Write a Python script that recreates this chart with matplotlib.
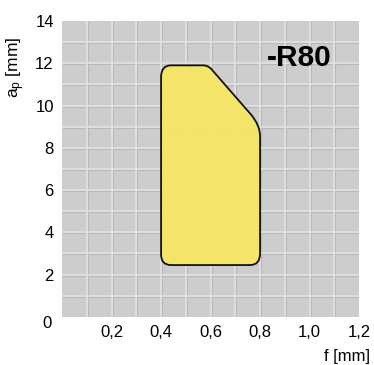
import matplotlib
matplotlib.use("Agg")
import matplotlib.pyplot as plt
from matplotlib.path import Path
from matplotlib.patches import PathPatch
import matplotlib.transforms as mtransforms
import numpy as np

plt.rcParams['font.family'] = ['Liberation Sans', 'DejaVu Sans']
plt.rcParams['mathtext.fontset'] = 'custom'
plt.rcParams['mathtext.rm'] = 'Liberation Sans'
plt.rcParams['mathtext.it'] = 'Liberation Sans'

# Data
x_ticks = [0.2, 0.4, 0.6, 0.8, 1.0, 1.2]
x_tick_labels = ["0,2", "0,4", "0,6", "0,8", "1,0", "1,2"]
y_ticks = [2, 4, 6, 8, 10, 12, 14]
y_tick_labels = ["2", "4", "6", "8", "10", "12", "14"]

# Chipbreaker application area outline (f [mm], ap [mm]), with rounded corners
area_f = [0.40, 0.40, 0.40, 0.44, 0.57, 0.59, 0.605, 0.765, 0.80, 0.80, 0.80, 0.80, 0.76, 0.44, 0.40, 0.40]
area_ap = [2.95, 11.35, 11.9, 11.9, 11.9, 11.9, 11.7, 9.55, 9.05, 8.55, 3.0, 2.45, 2.45, 2.45, 2.45, 2.95]
area_codes = [Path.MOVETO, Path.LINETO, Path.CURVE3, Path.CURVE3, Path.LINETO, Path.CURVE3, Path.CURVE3,
              Path.LINETO, Path.CURVE3, Path.CURVE3, Path.LINETO, Path.CURVE3, Path.CURVE3,
              Path.LINETO, Path.CURVE3, Path.CURVE3]
label = "-R80"

fig = plt.figure(figsize=(3.74, 3.65), dpi=100)
ax = fig.add_axes([0.166, 0.132, 0.794, 0.8105])
ax.set_xlim(0, 1.2)
ax.set_ylim(0, 14)
ax.set_facecolor('#cdcdcd')
for s in ax.spines.values():
    s.set_visible(False)

# grid with slight emboss effect
shadow = mtransforms.offset_copy(ax.transData, fig=fig, x=1.0, y=-1.0, units='dots')
for xv in np.arange(0.1, 1.2, 0.1):
    ax.plot([xv, xv], [0, 14], color='#b9b9b9', lw=0.8, transform=shadow, zorder=1)
    ax.plot([xv, xv], [0, 14], color='#e2e2e2', lw=1.2, zorder=1.1)
for yv in np.arange(1, 14, 1):
    ax.plot([0, 1.2], [yv, yv], color='#b9b9b9', lw=0.8, transform=shadow, zorder=1)
    ax.plot([0, 1.2], [yv, yv], color='#e2e2e2', lw=1.2, zorder=1.1)
ax.set_xlim(0, 1.2)
ax.set_ylim(0, 14)

path = Path(list(zip(area_f, area_ap)), area_codes)
ax.add_patch(PathPatch(path, facecolor='#f9e85f', alpha=0.9, edgecolor='none', zorder=2))
ax.add_patch(PathPatch(path, facecolor='none', edgecolor='#111111', lw=1.3, zorder=3))

ax.text(1.09, 12.25, label, fontsize=21.5, fontweight='bold', ha='right', va='center', zorder=4)

ax.set_xticks(x_ticks)
ax.set_xticklabels(x_tick_labels, fontsize=12)
ax.set_yticks(y_ticks)
ax.set_yticklabels(y_tick_labels, fontsize=12)
ax.tick_params(length=0, pad=6)
ax.tick_params(axis='x', pad=6)
ax.annotate("0", xy=(0, 0), xytext=(-10, -7), textcoords='offset pixels',
            ha='right', va='center', fontsize=12)

fig.text(0.042, 0.815, r"a$_\mathrm{p}$ [mm]", rotation=90, ha='center', va='center', fontsize=12.5)
fig.text(0.99, 0.024, "f [mm]", ha='right', va='center', fontsize=12)

fig.savefig("out.png", dpi=100)
